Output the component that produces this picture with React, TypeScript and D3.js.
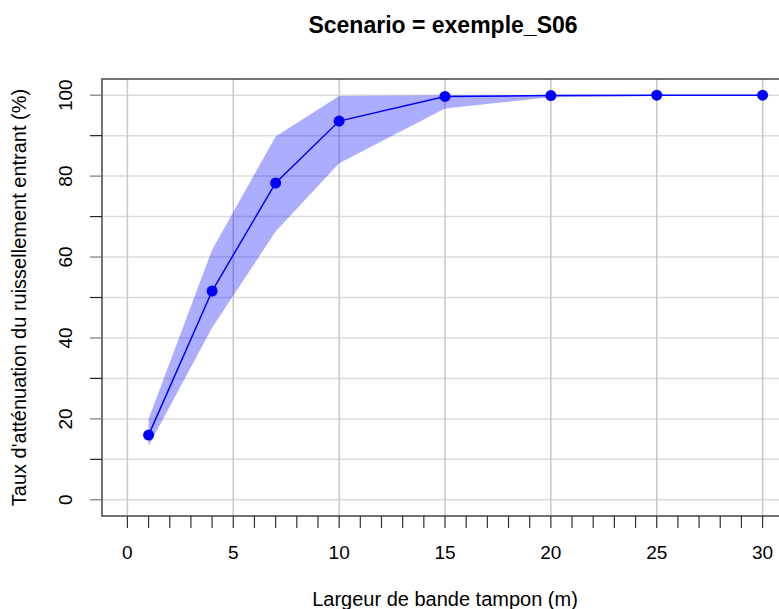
import React from "react";
import * as d3 from "d3";

// bande tampon widths (m) and attenuation (%)
const widths = [1, 4, 7, 10, 15, 20, 25, 30];
const meanRate = [16, 51.6, 78.3, 93.6, 99.7, 99.9, 100, 100];
const upperRate = [20, 61.8, 89.8, 99.8, 100, 100, 100, 100];
const lowerRate = [13.3, 42.5, 66.3, 83.2, 96.7, 99.5, 99.8, 99.9];

const xMajor = [0, 5, 10, 15, 20, 25, 30];
const yMajor = [0, 20, 40, 60, 80, 100];

const W = 779;
const H = 609;
const box = { left: 102, right: 788, top: 79, bottom: 516 };
const font = "'Liberation Sans', Arial, sans-serif";

const App = () => {
  const x = d3.scaleLinear().domain([-1.2, 31.2]).range([box.left, box.right]);
  const y = d3.scaleLinear().domain([-4, 104]).range([box.bottom, box.top]);

  const xMinor = d3.range(0, 31, 1);
  const yMinor = d3.range(0, 101, 10);

  const band = d3
    .area<number>()
    .x((_, i) => x(widths[i]))
    .y0((_, i) => y(lowerRate[i]))
    .y1((_, i) => y(upperRate[i]));
  const line = d3
    .line<number>()
    .x((_, i) => x(widths[i]))
    .y((d) => y(d));

  return (
    <svg
      width={W}
      height={H}
      style={{ position: "fixed", left: 0, top: 0, background: "#fff" }}
      fontFamily={font}
    >
      <rect width={W} height={H} fill="#fff" />
      {/* grid */}
      {yMinor.map((v) => (
        <line key={"gy" + v} x1={box.left} x2={box.right} y1={y(v)} y2={y(v)} stroke="#dcdcdc" strokeWidth={1.5} />
      ))}
      {xMajor.map((v) => (
        <line key={"gx" + v} x1={x(v)} x2={x(v)} y1={box.top} y2={box.bottom} stroke="#c8c8c8" strokeWidth={1.5} />
      ))}
      {/* band + line + points */}
      <path d={band(meanRate) || ""} fill="rgba(0,0,255,0.32)" stroke="none" />
      <path d={line(meanRate) || ""} fill="none" stroke="#0000ff" strokeWidth={1.5} />
      {meanRate.map((v, i) => (
        <circle key={"p" + i} cx={x(widths[i])} cy={y(v)} r={5.5} fill="#0000ff" />
      ))}
      {/* box */}
      <rect
        x={box.left}
        y={box.top}
        width={box.right - box.left}
        height={box.bottom - box.top}
        fill="none"
        stroke="#444"
        strokeWidth={1.5}
      />
      {/* x axis */}
      {xMinor.map((v) => (
        <line key={"tx" + v} x1={x(v)} x2={x(v)} y1={box.bottom} y2={box.bottom + 12} stroke="#333" strokeWidth={1.2} />
      ))}
      {xMajor.map((v) => (
        <text key={"lx" + v} x={x(v)} y={559} textAnchor="middle" fontSize={19} fill="#000">
          {v}
        </text>
      ))}
      {/* y axis */}
      {yMinor.map((v) => (
        <line
          key={"ty" + v}
          x1={box.left - 12}
          x2={box.left}
          y1={y(v)}
          y2={y(v)}
          stroke={v % 20 === 0 ? "#777" : "#222"}
          strokeWidth={1.2}
        />
      ))}
      {yMajor.map((v) => (
        <text
          key={"ly" + v}
          transform={`translate(72,${y(v)}) rotate(-90)`}
          textAnchor="middle"
          fontSize={19}
          fill="#000"
        >
          {v}
        </text>
      ))}
      {/* titles */}
      <text x={443} y={33} textAnchor="middle" fontSize={23} fontWeight="bold" fill="#000">
        Scenario = exemple_S06
      </text>
      <text x={445} y={606} textAnchor="middle" fontSize={20} fill="#000">
        Largeur de bande tampon (m)
      </text>
      <text
        transform={`translate(26,${(box.top + box.bottom) / 2}) rotate(-90)`}
        textAnchor="middle"
        fontSize={20}
        fill="#000"
      >
        Taux d'atténuation du ruissellement entrant (%)
      </text>
    </svg>
  );
};

export default App;
